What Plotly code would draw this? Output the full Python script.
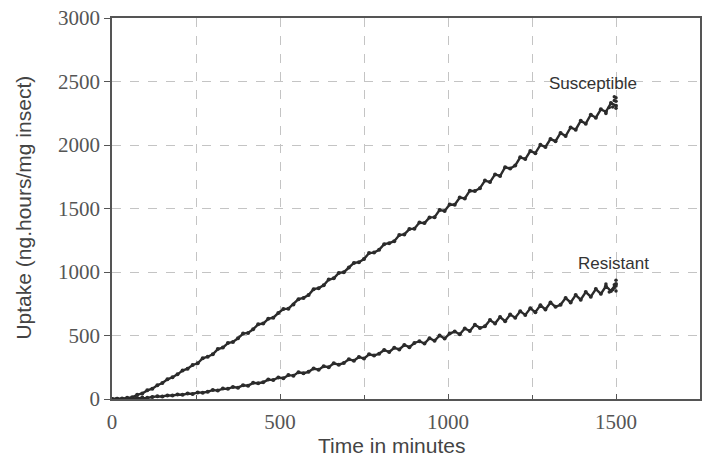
import plotly.graph_objects as go

time_min = [0, 15, 30, 45, 60, 75, 90, 105, 120, 135, 150, 165, 180, 195, 210, 225, 240, 255, 270, 285,
            300, 315, 330, 345, 360, 375, 390, 405, 420, 435, 450, 465, 480, 495, 510, 525, 540, 555, 570, 585,
            600, 615, 630, 645, 660, 675, 690, 705, 720, 735, 750, 765, 780, 795, 810, 825, 840, 855, 870, 885,
            900, 915, 930, 945, 960, 975, 990, 1005, 1020, 1035, 1050, 1065, 1080, 1095, 1110, 1125, 1140, 1155,
            1170, 1185, 1200, 1215, 1230, 1245, 1260, 1275, 1290, 1305, 1320, 1335, 1350, 1365, 1380, 1395, 1410,
            1425, 1440, 1455, 1470, 1485, 1500]

susceptible = [0, 1, 0, 9, 13, 33, 44, 68, 81, 108, 126, 155, 171, 194, 224, 239, 268, 281, 321, 333,
               352, 393, 405, 441, 449, 478, 515, 520, 549, 588, 594, 631, 640, 677, 708, 711, 745, 786, 796, 819,
               865, 873, 896, 941, 950, 993, 998, 1036, 1071, 1077, 1102, 1149, 1153, 1175, 1219, 1227, 1243, 1291,
               1296, 1338, 1341, 1390, 1385, 1430, 1432, 1488, 1480, 1531, 1530, 1586, 1579, 1640, 1637, 1660, 1720,
               1708, 1768, 1756, 1825, 1815, 1838, 1903, 1889, 1952, 1936, 2001, 1985, 2047, 2030, 2095, 2070, 2138,
               2121, 2190, 2168, 2238, 2215, 2281, 2262, 2330, 2310]

resistant = [0, 1, 4, 4, 8, 7, 12, 9, 16, 21, 20, 28, 27, 35, 33, 43, 40, 52, 50, 57,
             71, 66, 82, 80, 95, 89, 108, 105, 127, 124, 132, 153, 149, 170, 163, 188, 184, 210, 203, 214,
             240, 231, 258, 250, 281, 270, 284, 313, 301, 331, 318, 352, 343, 356, 386, 370, 403, 390, 425, 408,
             441, 455, 437, 479, 458, 500, 476, 515, 531, 510, 556, 535, 584, 560, 572, 622, 594, 645, 612, 665,
             640, 690, 662, 714, 684, 738, 705, 760, 726, 742, 795, 760, 818, 782, 842, 806, 866, 828, 888, 850, 905]

end_time = [1490, 1495, 1500, 1500, 1500, 1495, 1480, 1470]
end_susceptible = [2300, 2350, 2290, 2345, 2372, 2380, 2296, 2248]
end_resistant = [860, 900, 850, 890, 935, 875, 842, 906]

labels = ["Susceptible", "Resistant"]
label_pos = [(1433, 2483), (1492, 1065)]

dot = "#2b2b2b"
fig = go.Figure()
for y in [susceptible, resistant]:
    fig.add_trace(go.Scatter(x=time_min, y=y, mode="lines+markers",
                             line=dict(color=dot, width=2.4),
                             marker=dict(color=dot, size=4),
                             showlegend=False, hoverinfo="skip"))
for y in [end_susceptible, end_resistant]:
    fig.add_trace(go.Scatter(x=end_time, y=y, mode="markers",
                             marker=dict(color=dot, size=3.5),
                             showlegend=False, hoverinfo="skip"))

for txt, (lx, ly) in zip(labels, label_pos):
    fig.add_annotation(x=lx, y=ly, text=txt, showarrow=False,
                       font=dict(family="Liberation Sans, Arial", size=17, color="#333"))

fig.add_annotation(x=0.476, y=-0.123, xref="paper", yref="paper", xanchor="center", yanchor="middle",
                   text="Time in minutes", showarrow=False,
                   font=dict(family="Liberation Sans, Arial", size=21, color="#444"))
fig.add_annotation(x=-0.151, y=0.503, xref="paper", yref="paper", xanchor="center", yanchor="middle",
                   textangle=-90, text="Uptake (ng.hours/mg insect)", showarrow=False,
                   font=dict(family="Liberation Sans, Arial", size=21, color="#444"))

grid = dict(showgrid=True, gridcolor="#c4c4c4", gridwidth=1, griddash="dash")
fig.update_xaxes(range=[0, 1750], tickvals=[0, 500, 1000, 1500], ticks="inside", ticklen=5,
                 tickcolor="#555", showline=True, linecolor="#555", linewidth=1.5, mirror=True,
                 ticklabelstandoff=3,
                 minor=dict(dtick=250, tick0=0, ticks="inside", ticklen=4, tickcolor="#555",
                            showgrid=True, gridcolor="#c4c4c4", griddash="dash"),
                 tickfont=dict(family="Liberation Serif, Times New Roman", size=21, color="#555"),
                 zeroline=False, **grid)
fig.update_yaxes(range=[0, 3000], dtick=500, ticks="outside", ticklen=6, tickcolor="#555",
                 showline=True, linecolor="#555", linewidth=1.5, mirror=True,
                 tickfont=dict(family="Liberation Serif, Times New Roman", size=21, color="#555"),
                 zeroline=False, **grid)
fig.update_layout(width=708, height=459, margin=dict(l=112, r=6, t=16, b=60),
                  plot_bgcolor="white", paper_bgcolor="white")
fig.write_html("out.html")
